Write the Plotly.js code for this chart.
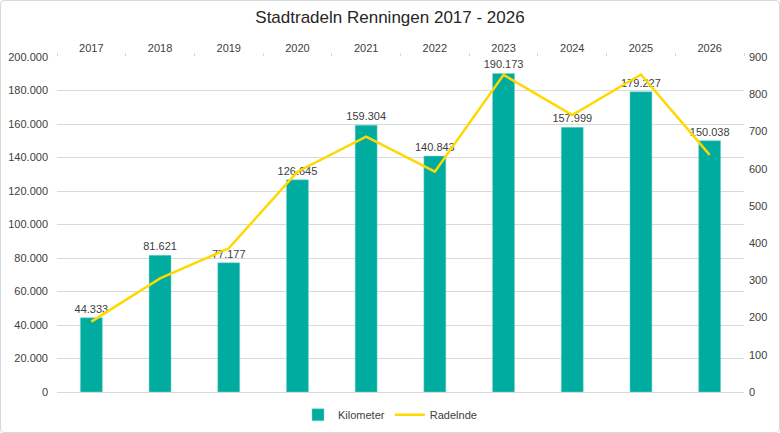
<!DOCTYPE html>
<html>
<head>
<meta charset="utf-8">
<script src="https://cdn.plot.ly/plotly-3.0.1.min.js"></script>
<style>
html,body{margin:0;padding:0;background:#fff;}
#wrap{position:relative;width:780px;height:433px;}
#chart{width:780px;height:433px;}
#frame{position:absolute;left:0;top:0;width:780px;height:433px;box-sizing:border-box;border:1px solid #d9d9d9;border-radius:4px;pointer-events:none;}
</style>
</head>
<body>
<div id="wrap"><div id="chart"></div><div id="frame"></div></div>
<script>
var years = ['2017','2018','2019','2020','2021','2022','2023','2024','2025','2026'];
var kilometer = [44333, 81621, 77177, 126645, 159304, 140843, 190173, 157999, 179227, 150038];
var radelnde = [189, 305, 386, 592, 686, 592, 852, 744, 853, 637];
var leftTicks = [0,20000,40000,60000,80000,100000,120000,140000,160000,180000,200000];
var rightTicks = [0,100,200,300,400,500,600,700,800,900];

var font = 'Liberation Sans, Arial, sans-serif';

var traces = [
  {
    type:'bar', name:'Kilometer', x:years, y:kilometer,
    marker:{color:'#00AC9F', line:{color:'#7fd6cf', width:0.5}},
    texttemplate:'%{y:,}', textposition:'outside', cliponaxis:false, constraintext:'none',
    textfont:{family:font, size:11, color:'#404040'},
    hoverinfo:'x+y'
  },
  {
    type:'scatter', mode:'lines', name:'Radelnde', x:years, y:radelnde,
    yaxis:'y2', line:{color:'#FFD800', width:2.5}
  }
];

var layout = {
  width:780, height:433,
  paper_bgcolor:'#fff', plot_bgcolor:'#fff',
  separators:',.',
  font:{family:font, size:11, color:'#404040'},
  title:{text:'Stadtradeln Renningen 2017 - 2026', font:{family:font, size:17, color:'#262626'}, x:0.5, xanchor:'center', y:0.96, yanchor:'middle'},
  margin:{l:57, r:36, t:57, b:41},
  bargap:0.68,
  showlegend:true,
  legend:{orientation:'h', x:0.5, xanchor:'center', xref:'container', y:0.042, yanchor:'middle', yref:'container', font:{family:font, size:11, color:'#404040'}, traceorder:'normal', itemwidth:30},
  xaxis:{
    type:'category', side:'top', showgrid:false, showline:false,
    ticks:'outside', tickson:'boundaries', ticklen:3, tickcolor:'#d9d9d9',
    tickfont:{family:font, size:11, color:'#404040'}, ticklabelstandoff:2
  },
  yaxis:{
    range:[0,200000], tickvals:leftTicks, tickformat:',', showgrid:true,
    gridcolor:'#d9d9d9', gridwidth:1, zeroline:true, zerolinecolor:'#d9d9d9',
    showline:false, ticks:'', tickfont:{family:font, size:11, color:'#404040'}, ticklabelstandoff:8
  },
  yaxis2:{
    overlaying:'y', side:'right', range:[0,900], tickvals:rightTicks,
    showgrid:false, zeroline:false, showline:false, ticks:'',
    tickfont:{family:font, size:11, color:'#404040'}, ticklabelstandoff:4
  }
};

Plotly.newPlot('chart', traces, layout, {displayModeBar:false, staticPlot:true});
</script>
</body>
</html>
